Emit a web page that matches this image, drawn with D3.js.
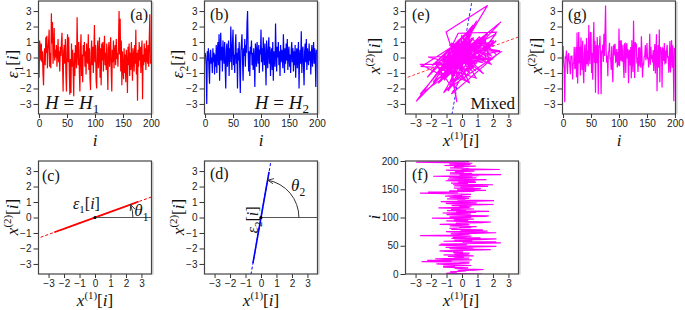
<!DOCTYPE html>
<html>
<head>
<meta charset="utf-8">
<script src="https://cdn.jsdelivr.net/npm/d3@7"></script>
<style>
  body { margin: 0; background: #fff; }
</style>
</head>
<body>
<script>
// source signals (a) and (b), i = 0..199
const eps1 = [
  -1.3, 1.1, 0.7, -0.2, 0.9, -0.3, 0.4, -1.0, -1.8, 0.2, 0.6, -0.5, 1.3, 0.3, 1.4, -0.7, 0.5, 1.0, 1.8, -0.6,
  0.3, -0.7, 2.85, 0.9, 2.3, -0.4, 0.6, 1.9, -0.2, 0.5, 0.0, 0.8, -0.6, 0.3, 1.2, -0.3, 0.4, -0.9, 0.7, 0.1,
  1.0, 1.6, -0.5, -2.2, 0.4, 0.8, -0.4, 1.2, -1.1, -2.2, 0.6, 1.5, -0.3, 1.3, -0.8, -2.4, -0.1, -2.3, 0.9, -0.6,
  0.5, -1.0, -2.5, 0.3, -1.2, 0.8, 0.2, -0.7, 2.6, 0.4, -0.5, 1.0, -0.9, -2.2, 0.6, 1.5, -1.2, 0.2, -1.6, 0.8,
  0.1, 1.0, -0.6, 0.4, -1.1, 0.9, 0.0, -0.4, 1.5, -0.8, 0.6, -1.3, -2.1, 0.3, 1.1, -0.5, 0.7, -1.0, 0.4, 2.1,
  -0.3, 0.8, -1.5, -2.0, 0.5, 1.1, -0.7, 0.2, 1.3, -1.3, 0.6, -1.8, 0.9, -0.2, 1.0, -0.9, 0.4, 1.4, -0.5, 0.3,
  -0.8, 0.9, -0.4, -2.1, 0.6, 1.0, -0.6, 0.2, 1.3, -0.9, -2.2, 0.5, -0.3, 1.1, -0.7, 0.4, 0.8, -0.5, 1.2, -0.1,
  0.3, -0.6, 0.9, 3.0, 0.2, 2.5, -0.9, 1.1, -1.8, 0.4, -0.7, -1.4, 0.6, -1.0, 0.2, -1.6, 0.5, -0.3, -2.3, 0.7,
  -0.5, 0.9, -1.2, 0.3, -0.8, 1.0, -0.2, -1.5, 0.6, 0.1, -0.9, 0.8, -0.4, 1.8, -1.1, 0.3, -2.8, 0.5, -0.6, 1.0,
  -0.2, 0.7, -1.0, 0.4, 1.1, -2.7, 0.2, -0.5, 0.9, -0.3, 0.6, -0.8, 1.1, 0.0, -0.4, 0.8, -0.6, 1.2, 2.8, -0.4
];
const eps2 = [
  0.3, 0.1, -0.5, -3.0, 0.4, -0.2, 0.6, -0.8, -1.7, 0.2, 0.5, -0.4, 0.0, -1.0, 0.6, -0.3, 0.3, -1.1, 0.2, -0.6,
  0.8, -1.0, 0.4, 1.0, -0.5, 1.5, -1.5, 0.3, 1.6, -0.2, 0.7, -0.9, 1.1, 0.2, -0.4, 1.0, -0.7, -2.0, 0.5, 0.9,
  -0.6, 0.3, 1.1, -1.2, 0.6, -0.3, 2.0, 0.4, -0.8, 0.9, 1.8, -0.5, 0.2, -1.0, 0.7, 1.5, -0.4, 0.3, -2.0, 0.6,
  -0.2, 1.0, -0.7, -2.3, 0.4, 0.9, 1.5, -0.3, -1.5, 0.6, 0.1, 1.2, -0.6, 0.8, 0.3, 2.2, 3.0, 0.5, -0.9, 0.4,
  -1.2, 0.7, 0.2, 1.1, -0.5, 0.3, -0.8, 0.6, -0.2, -1.9, 0.9, 0.4, -0.6, 1.0, 0.1, -0.4, 0.8, -1.0, 0.5, 0.2,
  1.8, -0.3, 0.6, -0.9, 1.3, 0.2, -0.5, 0.9, -0.2, -1.8, 1.1, 0.3, -0.7, 0.5, 1.3, -0.4, 0.7, -1.2, 0.2, 0.6,
  -0.8, 1.0, -1.5, 0.4, 0.1, -0.6, 2.2, 0.3, -0.9, 0.7, 0.0, 1.0, -0.5, 0.4, -1.2, 0.8, -0.3, 0.5, 0.2, -0.7,
  1.5, 0.1, -1.0, 0.6, -0.4, 0.9, -0.2, 1.2, -0.8, 0.3, 0.7, -0.6, 0.2, -1.0, 0.5, 1.0, -0.3, 0.6, -0.9, 0.4,
  -0.5, 0.8, -1.3, 0.2, 0.6, -0.7, 0.3, 1.0, -2.0, 0.1, 0.5, -0.4, 1.7, -1.0, 0.3, 0.7, -0.6, -1.8, 0.4, 0.9,
  -0.3, 1.2, -0.8, 0.6, 0.0, -0.5, 0.9, -0.2, 0.4, -1.1, 0.3, 0.8, -0.6, 0.2, 1.0, -0.4, 0.6, 0.1, -1.9, 0.5
];
// mixing directions, degrees (panels c, d)
const theta1 = 20, theta2 = 80;
const timeTicks = [0, 50, 100, 150, 200];
const valTicks = [-3, -2, -1, 0, 1, 2, 3];

const rad = Math.PI / 180;
// eps1 enters with a negative sign (matches panel f)
const u1 = [-Math.cos(theta1 * rad), -Math.sin(theta1 * rad)];
const u2 = [Math.cos(theta2 * rad), Math.sin(theta2 * rad)];
const x1 = eps1.map((e, i) => e * u1[0] + eps2[i] * u2[0]);
const x2 = eps1.map((e, i) => e * u1[1] + eps2[i] * u2[1]);

const W = 113, H = 113;
const V = [-3.65, 3.65], T = [-1, 201];
const serif = '"Liberation Serif"';
const sans = '"Liberation Sans"';

const svg = d3.select("body").append("svg")
  .attr("width", 685)
  .attr("height", 310);
const defs = svg.append("defs");

defs.append("marker")
  .attr("id", "arr")
  .attr("viewBox", "0 -4 8 8")
  .attr("refX", 7).attr("refY", 0)
  .attr("markerWidth", 7).attr("markerHeight", 7)
  .attr("markerUnits", "userSpaceOnUse")
  .attr("orient", "auto")
  .append("path")
  .attr("d", "M0,-3L7,0L0,3")
  .attr("fill", "none")
  .attr("stroke", "#333")
  .attr("stroke-width", 1);

function panel(id, left, top, xDom, yDom, xT, yT) {
  const g = svg.append("g").attr("transform", `translate(${left},${top})`);
  const x = d3.scaleLinear().domain(xDom).range([0, W]);
  const y = d3.scaleLinear().domain(yDom).range([H, 0]);

  defs.append("clipPath").attr("id", id)
    .append("rect").attr("width", W).attr("height", H);

  // light shadow on right edge
  g.append("line")
    .attr("x1", W + 1.4).attr("x2", W + 1.4)
    .attr("y1", 1).attr("y2", H + 0.5)
    .attr("stroke", "#d4d4d4").attr("stroke-width", 1.6);

  const xa = g.append("g").attr("transform", `translate(0,${H})`)
    .call(d3.axisBottom(x).tickValues(xT).tickSize(4).tickPadding(2));
  const ya = g.append("g")
    .call(d3.axisLeft(y).tickValues(yT).tickSize(5).tickPadding(2));
  [xa, ya].forEach(a => {
    a.select(".domain").remove();
    a.attr("font-size", 10);
    a.selectAll("text").style("font-family", sans).attr("fill", "#222");
    a.selectAll("line").attr("stroke", "#333");
  });

  const plot = g.append("g").attr("clip-path", `url(#${id})`);
  return { g, x, y, plot };
}

function frame(p) {
  p.g.append("rect")
    .attr("width", W).attr("height", H)
    .attr("fill", "none")
    .attr("stroke", "#444")
    .attr("stroke-width", 1.2);
}

function math(parent, px, py, parts, size, rot) {
  const t = parent.append("text")
    .attr("x", px).attr("y", py)
    .attr("text-anchor", "middle")
    .style("font-family", serif)
    .attr("font-size", size)
    .attr("fill", "#111");
  if (rot) t.attr("transform", `rotate(${rot},${px},${py})`);
  let shift = 0;
  parts.forEach(([s, k]) => {
    const sp = t.append("tspan").text(s).style("font-family", serif);
    let target = 0;
    if (k === "sub") { target = size * 0.28; sp.attr("font-size", size * 0.68); }
    else if (k === "sup") { target = -size * 0.4; sp.attr("font-size", size * 0.64); }
    else if (k === "i") sp.attr("font-style", "italic");
    sp.attr("dy", target - shift);
    shift = target;
  });
  return t;
}
const epsLab = k => [["ε", "i"], [k, "sub"], ["[", "n"], ["i", "i"], ["]", "n"]];
const xLab = k => [["x", "i"], ["(" + k + ")", "sup"], ["[", "n"], ["i", "i"], ["]", "n"]];
const iLab = [["i", "i"]];

function letter(txt, px, py, anchor) {
  svg.append("text")
    .attr("x", px).attr("y", py)
    .attr("text-anchor", anchor || "start")
    .style("font-family", serif)
    .attr("font-size", 16)
    .attr("fill", "#111")
    .text(txt);
}

const idx = d3.range(eps1.length);
const line = (p, xs, ys) => d3.line()
  .x(i => p.x(xs[i]))
  .y(i => p.y(ys[i]));

// ---- (a) ----
const pa = panel("ca", 38.5, 1, T, V, timeTicks, valTicks);
pa.plot.append("path")
  .attr("d", line(pa, idx, eps1)(idx))
  .attr("fill", "none").attr("stroke", "#ff0000").attr("stroke-width", 1.2);
frame(pa);

// ---- (b) ----
const pb = panel("cb", 204.5, 1, T, V, timeTicks, valTicks);
pb.plot.append("path")
  .attr("d", line(pb, idx, eps2)(idx))
  .attr("fill", "none").attr("stroke", "#0000ff").attr("stroke-width", 1.2);
frame(pb);

// ---- (e) ----
const pe = panel("ce", 405.5, 1, V, V, valTicks, valTicks);
[[theta1, "#ff3a3a"], [theta2, "#2a2aff"]].forEach(([th, c]) => {
  const ux = Math.cos(th * rad), uy = Math.sin(th * rad);
  pe.plot.append("line")
    .attr("x1", pe.x(-6 * ux)).attr("y1", pe.y(-6 * uy))
    .attr("x2", pe.x(6 * ux)).attr("y2", pe.y(6 * uy))
    .attr("stroke", c).attr("stroke-width", 1)
    .attr("stroke-dasharray", "3,2");
});
pe.plot.append("path")
  .attr("d", line(pe, x1, x2)(idx))
  .attr("fill", "none").attr("stroke", "#ff00ff").attr("stroke-width", 1.2);
frame(pe);

// ---- (g) ----
const pg = panel("cg", 562.5, 1, T, V, timeTicks, valTicks);
pg.plot.append("path")
  .attr("d", line(pg, idx, x2)(idx))
  .attr("fill", "none").attr("stroke", "#ff00ff").attr("stroke-width", 1.2);
frame(pg);

// ---- (c) and (d) ----
function component(id, left, eps, u, th, color, labelPos, labelRot, thLab, thPos, epsK) {
  const p = panel(id, left, 161, V, V, valTicks, valTicks);
  const ux = Math.cos(th * rad), uy = Math.sin(th * rad);
  p.plot.append("line")
    .attr("x1", p.x(-6 * ux)).attr("y1", p.y(-6 * uy))
    .attr("x2", p.x(6 * ux)).attr("y2", p.y(6 * uy))
    .attr("stroke", color).attr("stroke-width", 1)
    .attr("stroke-dasharray", "3,2");
  p.plot.append("path")
    .attr("d", d3.line().x(e => p.x(e * u[0])).y(e => p.y(e * u[1]))(eps))
    .attr("fill", "none").attr("stroke", color).attr("stroke-width", 1.6);
  p.plot.append("line")
    .attr("x1", p.x(0)).attr("y1", p.y(0))
    .attr("x2", p.x(V[1])).attr("y2", p.y(0))
    .attr("stroke", "#555").attr("stroke-width", 1);
  p.plot.append("circle")
    .attr("cx", p.x(0)).attr("cy", p.y(0)).attr("r", 1.5).attr("fill", "#000");
  const r = p.x(2.45) - p.x(0);
  const arc = d3.path();
  arc.arc(p.x(0), p.y(0), r, 0, -th * rad, true);
  p.plot.append("path")
    .attr("d", arc.toString())
    .attr("fill", "none").attr("stroke", "#333").attr("stroke-width", 1)
    .attr("marker-end", "url(#arr)");
  math(p.g, p.x(labelPos[0]), p.y(labelPos[1]), epsLab(epsK), 16, labelRot);
  math(p.g, p.x(thPos[0]), p.y(thPos[1]), [["θ", "i"], [thLab, "sub"]], 17);
  frame(p);
  return p;
}
component("cc", 38.5, eps1, [Math.cos(theta1 * rad), Math.sin(theta1 * rad)], theta1, "#ff0000",
  [-0.55, 0.55], 0, "1", [3.0, 0.1], "1");
component("cd", 204.5, eps2, u2, theta2, "#0000ff",
  [-0.2, -0.15], -90, "2", [2.4, 1.7], "2");

// ---- (f) ----
const pf = panel("cf", 405.5, 161, V, [0, 200], valTicks, timeTicks);
pf.plot.append("path")
  .attr("d", line(pf, x1, idx)(idx))
  .attr("fill", "none").attr("stroke", "#ff00ff").attr("stroke-width", 1.2);
frame(pf);

// ---- axis titles ----
math(svg, 95, 146, iLab, 17);
math(svg, 261, 146, iLab, 17);
math(svg, 461, 146, xLab("1"), 17);
math(svg, 619, 146, iLab, 17);
math(svg, 95, 306, xLab("1"), 17);
math(svg, 261, 306, xLab("1"), 17);
math(svg, 461, 306, xLab("1"), 17);

math(svg, 18, 64, epsLab("1"), 17, -90);
math(svg, 183, 64, epsLab("2"), 17, -90);
math(svg, 380, 56, xLab("2"), 17, -90);
math(svg, 542, 56, xLab("2"), 17, -90);
math(svg, 18, 217, xLab("2"), 17, -90);
math(svg, 184, 217, xLab("2"), 17, -90);
math(svg, 380, 217, iLab, 17, -90);

// ---- panel letters and notes ----
letter("(a)", 148, 20, "end");
letter("(b)", 210, 20);
letter("(e)", 412, 20);
letter("(g)", 568, 20);
letter("(c)", 42, 181);
letter("(d)", 210, 179);
letter("(f)", 412, 180);

function hLabel(px, anchor, k) {
  svg.append("text").attr("x", px).attr("y", 109).attr("text-anchor", anchor)
    .style("font-family", serif).attr("font-size", 19).attr("fill", "#111")
    .call(t => {
      t.append("tspan").attr("font-style", "italic").text("H");
      t.append("tspan").text(" = ");
      t.append("tspan").attr("font-style", "italic").text("H");
      t.append("tspan").attr("font-size", 13).attr("dy", 4).text(k);
    });
}
hLabel(45, "start", "1");
hLabel(309, "end", "2");
svg.append("text").attr("x", 515).attr("y", 109).attr("text-anchor", "end")
  .style("font-family", serif).attr("font-size", 17).attr("fill", "#111")
  .text("Mixed");
</script>
</body>
</html>
